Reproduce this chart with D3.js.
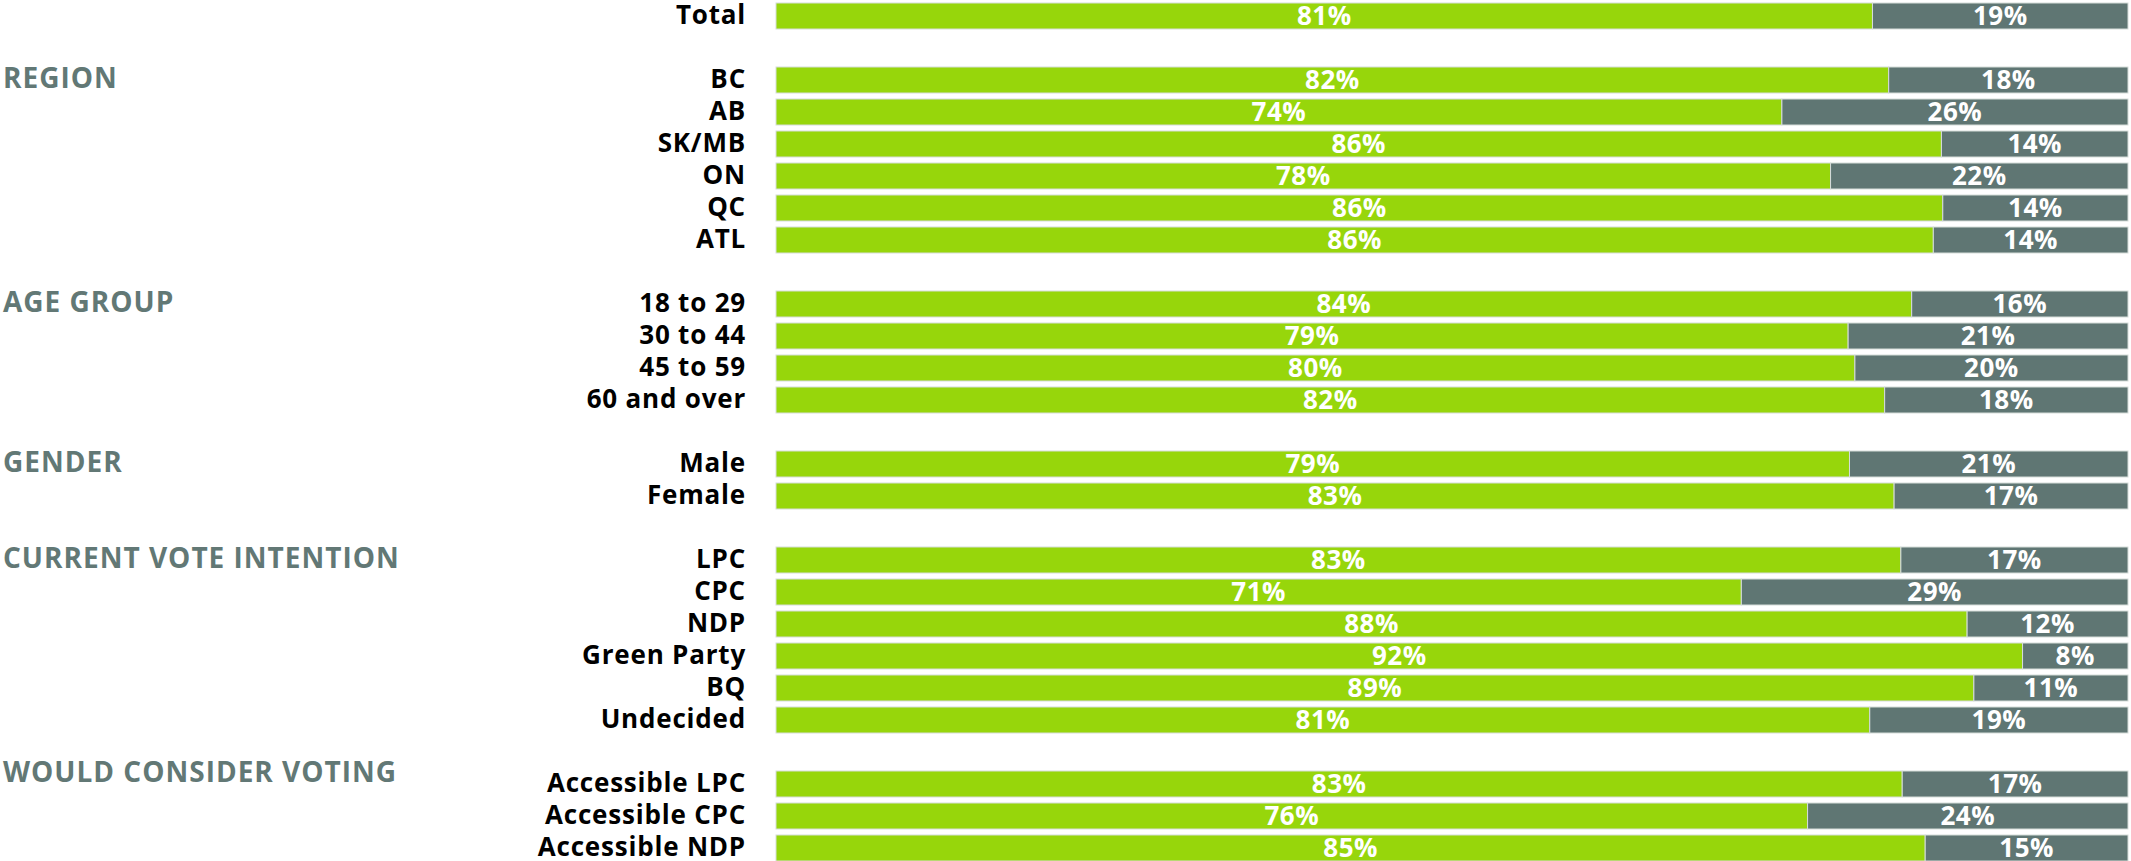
<!DOCTYPE html>
<html>
<head>
<meta charset="utf-8">
<script src="https://cdn.jsdelivr.net/npm/d3@7"></script>
<style>
  html, body { margin: 0; padding: 0; background: #ffffff; }
  svg { display: block; }
</style>
</head>
<body>
<svg id="chart" width="2131" height="861"></svg>
<script>
// ---------------- data ----------------
const groupNames = ["", "REGION", "AGE GROUP", "GENDER", "CURRENT VOTE INTENTION", "WOULD CONSIDER VOTING"];
const groupSizes = [1, 6, 4, 2, 6, 3];
const categories = ["Total", "BC", "AB", "SK/MB", "ON", "QC", "ATL",
  "18 to 29", "30 to 44", "45 to 59", "60 and over",
  "Male", "Female",
  "LPC", "CPC", "NDP", "Green Party", "BQ", "Undecided",
  "Accessible LPC", "Accessible CPC", "Accessible NDP"];
const agreeValues = [81.1, 82.3, 74.4, 86.2, 78.0, 86.3, 85.6,
  84.0, 79.3, 79.8, 82.0,
  79.4, 82.7,
  83.2, 71.4, 88.1, 92.2, 88.6, 80.9,
  83.3, 76.3, 85.0];
const disagreeValues = [18.9, 17.7, 25.6, 13.8, 22.0, 13.7, 14.4,
  16.0, 20.7, 20.2, 18.0,
  20.6, 17.3,
  16.8, 28.6, 11.9, 7.8, 11.4, 19.1,
  16.7, 23.7, 15.0];
const agreeLabels = ["81%", "82%", "74%", "86%", "78%", "86%", "86%",
  "84%", "79%", "80%", "82%",
  "79%", "83%",
  "83%", "71%", "88%", "92%", "89%", "81%",
  "83%", "76%", "85%"];
const disagreeLabels = ["19%", "18%", "26%", "14%", "22%", "14%", "14%",
  "16%", "21%", "20%", "18%",
  "21%", "17%",
  "17%", "29%", "12%", "8%", "11%", "19%",
  "17%", "24%", "15%"];

// ---------------- layout ----------------
const GREEN = "#97d60b", GREY = "#5f7673", HEAD = "#627875";
const FONT = "'Open Sans', 'Lato', sans-serif";

// build rows: categories with one blank row between groups
const rows = [];
const groupStart = [];
let ci = 0;
groupSizes.forEach((n, g) => {
  if (g > 0) rows.push({ key: "blank" + g, blank: true });
  groupStart.push("row" + ci);
  for (let k = 0; k < n; k++, ci++) {
    rows.push({ key: "row" + ci, i: ci, group: g });
  }
});

const y = d3.scaleBand()
  .domain(rows.map(r => r.key))
  .range([3, 861])
  .paddingInner(0.1875)
  .paddingOuter(0);

const x = d3.scaleLinear().domain([0, 100]).range([776, 2128]);

const svg = d3.select("#chart");
const data = rows.filter(r => !r.blank);

const bars = svg.append("g").selectAll("g").data(data).join("g");

bars.append("rect")
  .attr("x", d => x(0))
  .attr("y", d => y(d.key))
  .attr("width", d => x(agreeValues[d.i]) - x(0))
  .attr("height", y.bandwidth())
  .attr("fill", GREEN)
  .attr("stroke", "#d6ddda")
  .attr("stroke-width", 1);

bars.append("rect")
  .attr("x", d => x(agreeValues[d.i]))
  .attr("y", d => y(d.key))
  .attr("width", d => x(agreeValues[d.i] + disagreeValues[d.i]) - x(agreeValues[d.i]))
  .attr("height", y.bandwidth())
  .attr("fill", GREY)
  .attr("stroke", "#d6ddda")
  .attr("stroke-width", 1);

const pctSize = 26;
bars.append("text")
  .attr("x", d => (x(0) + x(agreeValues[d.i])) / 2)
  .attr("y", d => y(d.key) + y.bandwidth() / 2 + pctSize * 0.355)
  .attr("text-anchor", "middle")
  .attr("font-family", FONT)
  .attr("font-weight", 700)
  .attr("font-size", pctSize)
  .attr("letter-spacing", 0.5)
  .attr("fill", "#ffffff")
  .text(d => agreeLabels[d.i]);

bars.append("text")
  .attr("x", d => (x(agreeValues[d.i]) + x(agreeValues[d.i] + disagreeValues[d.i])) / 2)
  .attr("y", d => y(d.key) + y.bandwidth() / 2 + pctSize * 0.355)
  .attr("text-anchor", "middle")
  .attr("font-family", FONT)
  .attr("font-weight", 700)
  .attr("font-size", pctSize)
  .attr("letter-spacing", 0.5)
  .attr("fill", "#ffffff")
  .text(d => disagreeLabels[d.i]);

// category labels
const catSize = 26;
bars.append("text")
  .attr("x", x(0) - 30)
  .attr("y", d => y(d.key) + y.bandwidth() / 2 + catSize * 0.355 - 1)
  .attr("text-anchor", "end")
  .attr("font-family", FONT)
  .attr("font-weight", 700)
  .attr("font-size", catSize)
  .attr("letter-spacing", 0.8)
  .attr("fill", "#000000")
  .text(d => categories[d.i]);

// group headers
const headSize = 28;
svg.append("g").selectAll("text")
  .data(groupNames.map((name, g) => ({ name, g })).filter(d => d.name))
  .join("text")
  .attr("x", 3)
  .attr("y", d => y(groupStart[d.g]) + y.bandwidth() / 2 + headSize * 0.355 - 2 - (d.g === groupNames.length - 1 ? 10 : 0))
  .attr("font-family", FONT)
  .attr("font-weight", 700)
  .attr("font-size", headSize)
  .attr("letter-spacing", 1)
  .attr("fill", HEAD)
  .text(d => d.name);
</script>
</body>
</html>
